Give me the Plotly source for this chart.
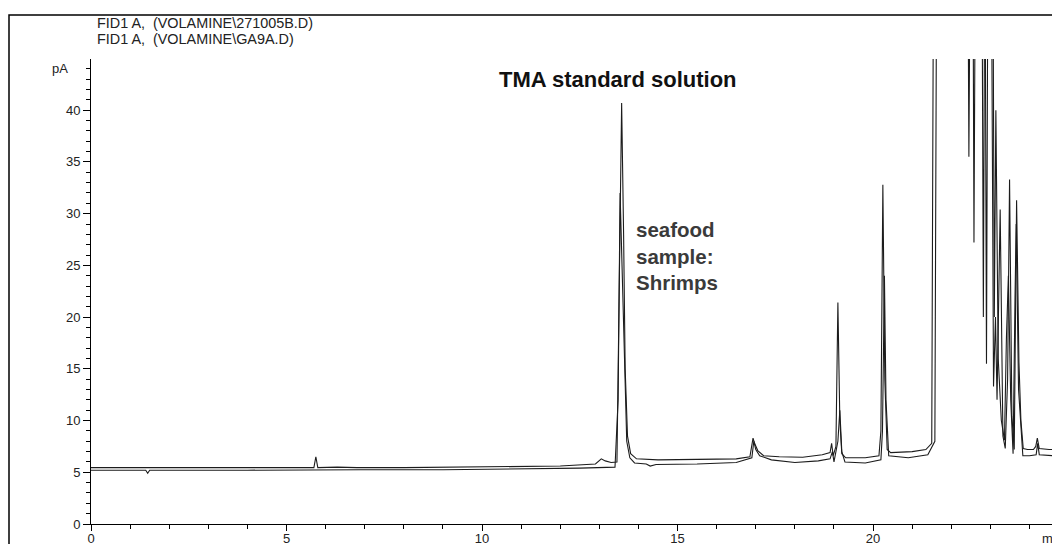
import plotly.graph_objects as go

# ---- data ----
std_time = [0.0, 1.4, 3.0, 5.7, 5.75, 5.8, 6.3, 6.8, 8.0, 10.0, 12.0, 12.9, 13.05, 13.15, 13.3, 13.45,
            13.5, 13.57, 13.62, 13.66, 13.72, 13.8, 13.95, 14.5, 15.5, 16.5, 16.85, 16.93, 16.97, 17.05,
            17.2, 17.6, 18.2, 18.7, 18.9, 18.94, 18.98, 19.05, 19.10, 19.15, 19.2, 19.3, 19.8, 20.15,
            20.2, 20.25, 20.30, 20.36, 20.45, 21.0, 21.35, 21.5, 21.55, 22.42, 22.45, 22.49, 22.78,
            22.82, 22.86, 23.02, 23.08, 23.13, 23.17, 23.25, 23.32, 23.38, 23.44, 23.49, 23.55, 23.61,
            23.67, 23.73, 23.78, 23.84, 23.95, 24.1, 24.16, 24.2, 24.25, 24.5, 24.7, 24.78]
std_signal = [5.45, 5.45, 5.45, 5.45, 6.5, 5.45, 5.5, 5.45, 5.45, 5.5, 5.6, 5.8, 6.3, 6.1, 5.95, 6.0,
              20.0, 40.7, 28.0, 15.0, 8.5, 6.8, 6.3, 6.2, 6.25, 6.3, 6.5, 8.3, 7.8, 7.1,
              6.6, 6.5, 6.45, 6.7, 6.9, 7.8, 6.6, 7.5, 21.4, 10.0, 6.8, 6.4, 6.4, 6.6,
              9.0, 32.8, 14.0, 7.2, 6.9, 7.0, 7.2, 7.8, 60.0, 60.0, 35.5, 60.0, 60.0,
              20.0, 60.0, 60.0, 13.3, 20.0, 12.0, 30.4, 8.5, 7.3, 14.0, 33.3, 10.4, 7.2,
              31.3, 15.6, 10.0, 7.3, 7.2, 7.2, 7.5, 8.3, 7.3, 7.2, 7.2, 8.0]

smp_time = [0.0, 1.4, 1.45, 1.5, 4.0, 6.2, 6.5, 6.9, 9.0, 11.0, 12.5, 13.4, 13.48, 13.53, 13.58, 13.64,
            13.7, 13.78, 13.9, 14.2, 14.3, 14.45, 15.5, 16.5, 16.9, 16.95, 17.0, 17.1, 17.4, 18.0,
            18.6, 18.9, 18.96, 19.0, 19.1, 19.15, 19.2, 19.28, 19.8, 20.2, 20.24, 20.29, 20.33, 20.4,
            20.9, 21.4, 21.58, 21.63, 22.55, 22.58, 22.62, 22.86, 22.9, 22.94, 23.06, 23.1, 23.14,
            23.2, 23.28, 23.36, 23.41, 23.46, 23.52, 23.58, 23.63, 23.66, 23.72, 23.78, 23.83, 24.0,
            24.17, 24.21, 24.25, 24.6, 24.78]
smp_signal = [5.2, 5.2, 4.9, 5.2, 5.2, 5.25, 5.3, 5.25, 5.25, 5.3, 5.4, 5.5, 12.0, 32.0, 25.0, 14.0,
              8.0, 6.4, 5.9, 5.8, 5.6, 5.75, 5.8, 5.95, 6.4, 8.0, 7.2, 6.6, 6.2, 5.95,
              6.1, 6.3, 7.0, 6.0, 8.0, 11.0, 7.0, 6.0, 5.9, 6.2, 9.0, 24.0, 12.0, 6.6,
              6.4, 6.7, 8.0, 60.0, 60.0, 27.2, 60.0, 60.0, 15.5, 60.0, 60.0, 20.0, 40.0,
              16.0, 10.0, 8.1, 18.0, 24.0, 12.0, 6.8, 22.0, 29.0, 13.0, 9.2, 6.6, 6.6,
              6.7, 7.8, 6.7, 6.6, 7.4]

x_range = [0, 24.78]
y_range = [0, 44.95]

header_lines = ["FID1 A,  (VOLAMINE\\271005B.D)", "FID1 A,  (VOLAMINE\\GA9A.D)"]
title_text = "TMA standard solution"
sample_text = "seafood<br>sample:<br>Shrimps"

FONT = "Liberation Sans, Arial, sans-serif"

# screen geometry of the plot area (page body has an 8px margin)
PL, PB, PW, PH = 91, 524, 969, 465


def px(xs):
    return (xs - PL) / PW


def py(ys):
    return (PB - ys) / PH


fig = go.Figure()
fig.add_trace(go.Scatter(x=std_time, y=std_signal, mode="lines",
                         line=dict(color="#1c1c1c", width=1.1), showlegend=False))
fig.add_trace(go.Scatter(x=smp_time, y=smp_signal, mode="lines",
                         line=dict(color="#1c1c1c", width=1.1), showlegend=False))

fig.update_layout(
    width=1052, height=536,
    margin=dict(l=83, r=0, t=51, b=20, autoexpand=False),
    paper_bgcolor="white", plot_bgcolor="white",
    font=dict(family=FONT, color="#222", size=13),
    showlegend=False,
)
fig.update_xaxes(range=x_range, automargin=False, showgrid=False, zeroline=False, showline=True,
                 linecolor="black", linewidth=1, ticks="outside", ticklen=6, tickcolor="black",
                 tick0=0, dtick=5, tickfont=dict(size=13, color="#222"), ticklabelstandoff=-4,
                 minor=dict(ticks="outside", ticklen=4, tickcolor="black", dtick=1, tick0=0))
fig.update_yaxes(range=y_range, automargin=False, showgrid=False, zeroline=False, showline=True,
                 linecolor="black", linewidth=1, ticks="outside", ticklen=7, tickcolor="black",
                 tick0=0, dtick=5, tickfont=dict(size=13, color="#222"),
                 minor=dict(ticks="outside", ticklen=4, tickcolor="black", dtick=1, tick0=0))

# outer frame
fig.add_shape(type="rect", xref="paper", yref="paper",
              x0=px(9), x1=1.02, y0=-0.2, y1=py(15),
              line=dict(color="black", width=1.5), fillcolor="rgba(0,0,0,0)", layer="above")

# header lines
for i, txt in enumerate(header_lines):
    fig.add_annotation(xref="paper", yref="paper", x=px(95),
                       y=py(23 + 16 * i), xanchor="left", yanchor="middle",
                       text=txt, showarrow=False, font=dict(size=14.4, color="#222", family=FONT))

# unit labels
fig.add_annotation(xref="paper", yref="paper", x=px(70), y=py(68),
                   xanchor="right", yanchor="middle", text="pA", showarrow=False,
                   font=dict(size=13, color="#222", family=FONT))
fig.add_annotation(xref="paper", yref="paper", x=px(1040), y=py(529),
                   xanchor="left", yanchor="top", text="min", showarrow=False,
                   font=dict(size=13, color="#222", family=FONT))

fig.add_annotation(x=13.48, y=43.0, xref="x", yref="y", text="<b>" + title_text + "</b>",
                   showarrow=False, xanchor="center", yanchor="middle",
                   font=dict(size=22, color="#111", family=FONT))
fig.add_annotation(x=13.88, y=25.9, xref="x", yref="y", text="<b>" + sample_text + "</b>",
                   showarrow=False, xanchor="left", yanchor="middle", align="left",
                   font=dict(size=20.5, color="#3a3a3a", family=FONT))

fig.write_html("out.html")
